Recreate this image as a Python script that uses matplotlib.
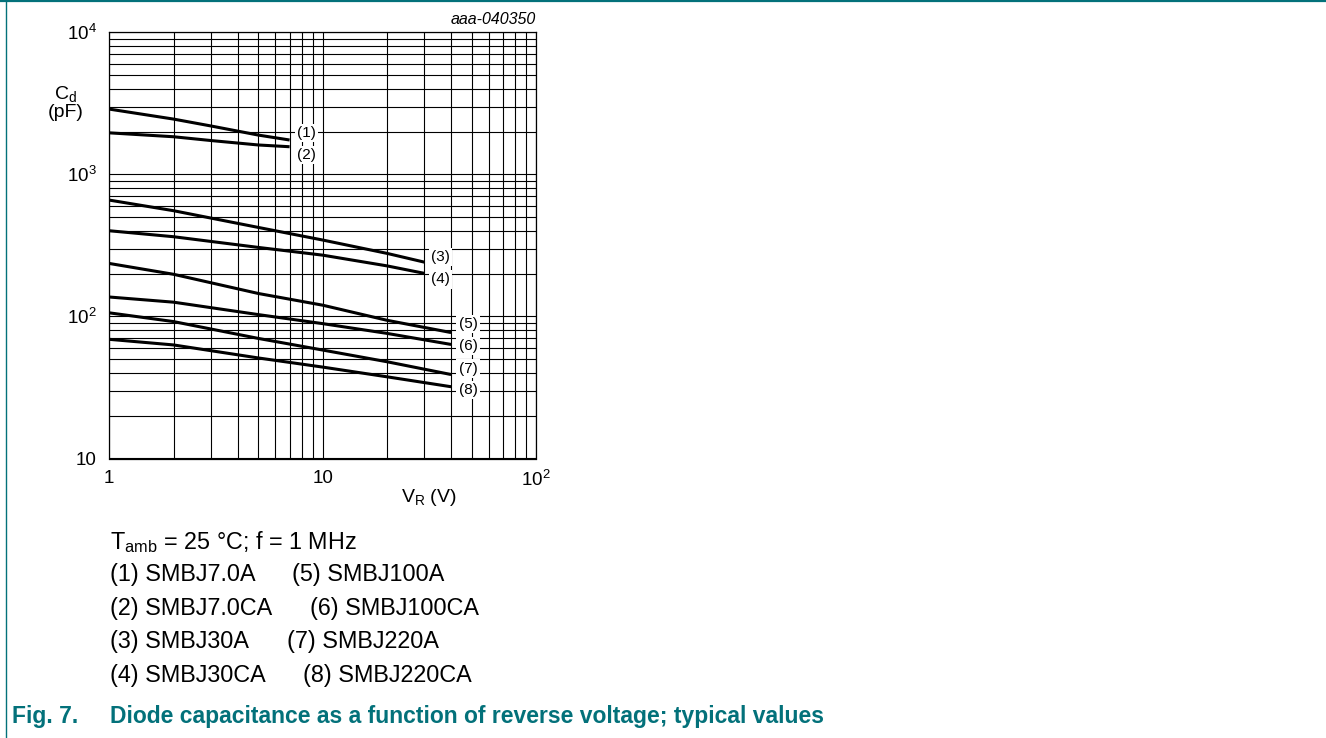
import numpy as np
import matplotlib
matplotlib.use("Agg")
import matplotlib.pyplot as plt
from matplotlib.ticker import LogLocator, FixedLocator, FixedFormatter, NullFormatter
from matplotlib.lines import Line2D

plt.rcParams['font.family'] = ['Liberation Sans', 'DejaVu Sans']
plt.rcParams['mathtext.fontset'] = 'custom'
plt.rcParams['mathtext.rm'] = 'Liberation Sans'
plt.rcParams['mathtext.it'] = 'Liberation Sans:italic'

# reverse voltage (V) and diode capacitance (pF)
vr_7v = [1, 2, 3, 5, 7]
cd_1 = [2880, 2450, 2190, 1890, 1745]
cd_2 = [1960, 1840, 1730, 1610, 1565]

vr_30v = [1, 2, 5, 10, 20, 30]
cd_3 = [659, 555, 423, 345, 278, 241]
cd_4 = [401, 364, 306, 270, 227, 201]

vr_high = [1, 2, 5, 10, 20, 40]
cd_5 = [236, 198, 145, 120, 94, 77]
cd_6 = [137, 126, 103, 89, 76, 63.5]
cd_7 = [106, 92, 70, 58, 48, 39]
cd_8 = [69, 63, 51, 44, 37.6, 32]

curve_tags = ['(1)', '(2)', '(3)', '(4)', '(5)', '(6)', '(7)', '(8)']
tag_pos = [(8.4, 1960), (8.4, 1370), (35.8, 263), (35.8, 182),
           (48, 88), (48, 62), (48, 43), (48, 30.3)]

parts_left = ['(1) SMBJ7.0A', '(2) SMBJ7.0CA', '(3) SMBJ30A', '(4) SMBJ30CA']
parts_right = ['(5) SMBJ100A', '(6) SMBJ100CA', '(7) SMBJ220A', '(8) SMBJ220CA']

W, H = 1326, 738
teal = '#03717a'


def fx(px):
    return px / W


def fy(py):
    return 1 - py / H


fig = plt.figure(figsize=(W / 100, H / 100), dpi=100)
ax = fig.add_axes([fx(109.3), fy(458.5), fx(536) - fx(109.3), fy(32.3) - fy(458.5)])
ax.set_xscale('log')
ax.set_yscale('log')
ax.set_xlim(1, 100)
ax.set_ylim(10, 1e4)

for xs, ys in [(vr_7v, cd_1), (vr_7v, cd_2), (vr_30v, cd_3), (vr_30v, cd_4),
               (vr_high, cd_5), (vr_high, cd_6), (vr_high, cd_7), (vr_high, cd_8)]:
    ax.plot(xs, ys, color='black', lw=2.2, solid_capstyle='butt', zorder=3)

ax.xaxis.set_major_locator(FixedLocator([1, 10, 100]))
ax.xaxis.set_major_formatter(FixedFormatter(['1', '10', r'$\mathregular{10^2}$']))
ax.yaxis.set_major_locator(FixedLocator([10, 100, 1000, 10000]))
ax.yaxis.set_major_formatter(FixedFormatter(['10', r'$\mathregular{10^2}$',
                                             r'$\mathregular{10^3}$', r'$\mathregular{10^4}$']))
ax.xaxis.set_minor_locator(LogLocator(base=10, subs=np.arange(2, 10), numticks=20))
ax.yaxis.set_minor_locator(LogLocator(base=10, subs=np.arange(2, 10), numticks=20))
ax.xaxis.set_minor_formatter(NullFormatter())
ax.yaxis.set_minor_formatter(NullFormatter())
ax.tick_params(which='both', length=0, labelsize=13.5)
ax.tick_params(axis='x', pad=8)
ax.tick_params(axis='y', pad=9)
ax.grid(which='both', color='black', lw=0.8)
for s in ax.spines.values():
    s.set_linewidth(0.9)

for tag, (tx, ty) in zip(curve_tags, tag_pos):
    ax.text(tx, ty, tag, fontsize=11, ha='center', va='center', zorder=4,
            bbox=dict(fc='white', ec='none', pad=1.5))

ax.text(1.0, 1.012, 'aaa-040350', transform=ax.transAxes, ha='right', va='bottom',
        fontsize=11.5, style='italic')

fig.text(fx(66), fy(98.5), r'$\mathregular{C_d}$', fontsize=14, ha='center', va='baseline')
fig.text(fx(65.5), fy(117), '(pF)', fontsize=14, ha='center', va='baseline')
fig.text(fx(429), fy(498), r'$\mathregular{V_R}$ (V)', fontsize=14, ha='center', va='center')

# notes under the chart
fig.text(fx(110), fy(542), r'$\mathregular{T_{amb}}$ = 25 °C; f = 1 MHz', fontsize=16.8,
         ha='left', va='center')
right_x = [292, 310, 287, 303]
for i, (left, right) in enumerate(zip(parts_left, parts_right)):
    yy = 575 + i * 33.4
    fig.text(fx(110), fy(yy), left, fontsize=16.8, ha='left', va='center')
    fig.text(fx(right_x[i]), fy(yy), right, fontsize=16.8, ha='left', va='center')

fig.text(fx(12), fy(717), 'Fig. 7.', fontsize=16.5, fontweight='bold', color=teal,
         ha='left', va='center')
fig.text(fx(110), fy(717), 'Diode capacitance as a function of reverse voltage; typical values',
         fontsize=16.5, fontweight='bold', color=teal, ha='left', va='center')

# frame lines
fig.add_artist(Line2D([0, 1], [fy(0.8), fy(0.8)], transform=fig.transFigure, color=teal, lw=1.6))
fig.add_artist(Line2D([fx(5.5), fx(5.5)], [0, 1], transform=fig.transFigure, color=teal, lw=1.0))

fig.savefig('out.png', dpi=100)
